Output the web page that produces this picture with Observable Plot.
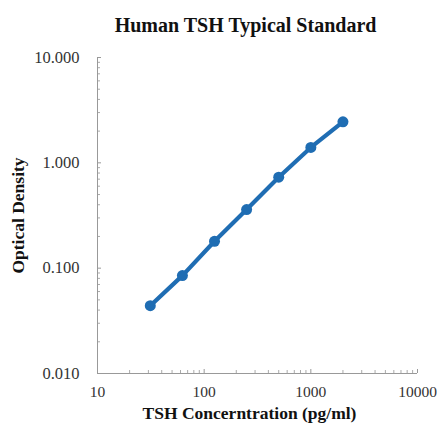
<!DOCTYPE html>
<html><head><meta charset="utf-8">
<script src="https://cdn.jsdelivr.net/npm/d3@7"></script>
<script src="https://cdn.jsdelivr.net/npm/@observablehq/plot@0.6"></script>
<style>body{margin:0;background:#fff}</style>
</head><body><div id="chart"></div>
<script>
const concentration = [31.25, 62.5, 125, 250, 500, 1000, 2000];
const od = [0.044, 0.085, 0.18, 0.36, 0.73, 1.40, 2.45];
const yTicks = [0.01, 0.1, 1, 10];
const xTicks = [10, 100, 1000, 10000];
const title = "Human TSH Typical Standard";
const xLabel = "TSH Concerntration (pg/ml)";
const yLabel = "Optical Density";

const data = concentration.map((c, i) => ({c, od: od[i]}));
const minor = (lo, hi) => { const r = []; for (let d = lo; d < hi; d *= 10) for (let k = 2; k <= 9; k++) r.push(d * k); return r; };
const color = "#1f6db3";
const font = "Liberation Serif, Times New Roman, serif";

const plot = Plot.plot({
  width: 437, height: 424,
  marginLeft: 97, marginRight: 20, marginTop: 57, marginBottom: 51,
  style: {fontFamily: font, fontSize: "15.5px", color: "#333", background: "#fff"},
  x: {type: "log", domain: [10, 10000]},
  y: {type: "log", domain: [0.01, 10]},
  marks: [
    Plot.axisY({ticks: yTicks, tickFormat: d => d.toFixed(3), tickSize: -4, tickPadding: 22, stroke: "#999", label: null, fontSize: 16.5}),
    Plot.axisY({ticks: minor(0.01, 10), tickSize: -3, tickFormat: null, stroke: "#aaa", label: null, text: null}),
    Plot.axisX({ticks: xTicks, tickFormat: d => String(d), tickSize: -4, tickPadding: 16.5, stroke: "#999", label: null, fontSize: 15.5}),
    Plot.axisX({ticks: minor(10, 10000), tickSize: -3, stroke: "#aaa", label: null, text: null}),
    Plot.ruleX([10], {stroke: "#999"}),
    Plot.ruleY([0.01], {stroke: "#999"}),
    Plot.line(data, {x: "c", y: "od", stroke: color, strokeWidth: 4.2}),
    Plot.dot(data, {x: "c", y: "od", fill: color, r: 5.5}),
    Plot.text([title], {frameAnchor: "top", lineAnchor: "middle", dx: -12, dy: -32, fontWeight: "bold", fontSize: 20, fill: "#111"}),
    Plot.text([xLabel], {frameAnchor: "bottom", lineAnchor: "middle", dx: -8, dy: 40, fontWeight: "bold", fontSize: 17.5, fill: "#111"}),
    Plot.text([yLabel], {frameAnchor: "left", textAnchor: "middle", lineAnchor: "middle", dx: -79, rotate: -90, fontWeight: "bold", fontSize: 17.5, fill: "#111"})
  ]
});
document.getElementById("chart").append(plot);
</script>
</body></html>
